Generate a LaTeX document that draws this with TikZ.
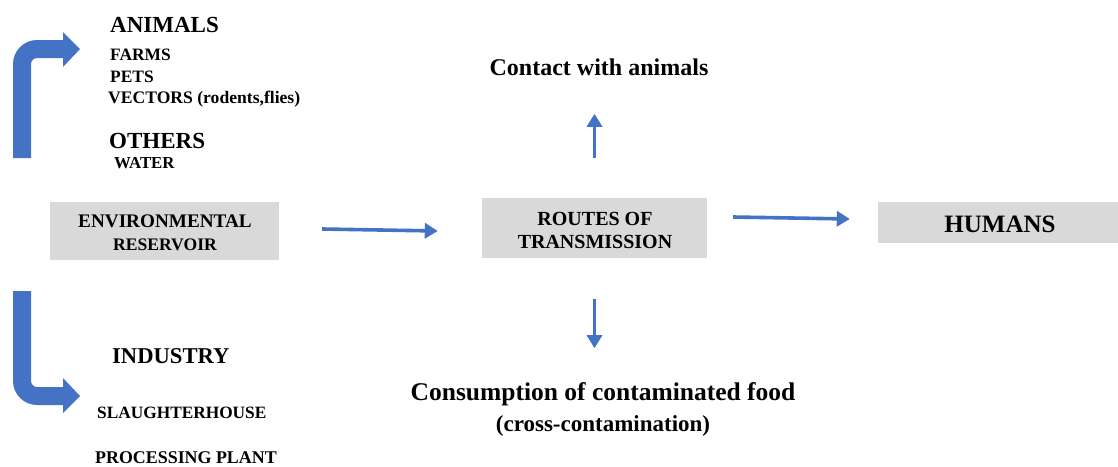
\documentclass[tikz,border=0pt]{standalone}
\usepackage{fontspec}
\setmainfont{Liberation Serif}
\usetikzlibrary{arrows.meta,calc}
\definecolor{arrblue}{HTML}{4472C4}
\definecolor{boxgray}{HTML}{D9D9D9}
\newcommand{\fs}[1]{\fontsize{#1}{#1}\selectfont\bfseries}
\begin{document}
\begin{tikzpicture}[x=1pt,y=-1pt,
  graybox/.style={fill=boxgray,draw=none,inner sep=0pt},
  lbl/.style={inner sep=0pt,anchor=base west,text=black},
  clbl/.style={inner sep=0pt,anchor=base,text=black},
  conn/.style={draw=arrblue,line width=3.6pt,-{Triangle[length=13pt,width=15pt]}},
  blockarrow/.style={fill=arrblue}]
\useasboundingbox (0,0) rectangle (1118,466);
% boxes
\node[graybox,minimum width=229pt,minimum height=58pt] (env) at (164.5,231) {};
\node[graybox,minimum width=225pt,minimum height=60pt] (routes) at (594.5,228) {};
\node[graybox,minimum width=240pt,minimum height=41pt] (humans) at (998,222.5) {};
% box texts
\node[clbl] (envA) at (165,227) {\fs{19.2}ENVIRONMENTAL};
\node[clbl] (envB) at (165,250) {\fs{17.6}RESERVOIR};
\node[clbl] (rtA) at (595,225) {\fs{20}ROUTES OF};
\node[clbl] (rtB) at (595,248) {\fs{20}TRANSMISSION};
\node[clbl] (hum) at (1000,232) {\fs{25}HUMANS};
% left texts
\node[lbl] (animals) at (110,32) {\fs{23}ANIMALS};
\node[lbl] (farms) at (110,60) {\fs{17.4}FARMS};
\node[lbl] (pets) at (110,82) {\fs{17.4}PETS};
\node[lbl] (vectors) at (108,103) {\fs{17.6}VECTORS (rodents,flies)};
\node[lbl] (others) at (109,148) {\fs{23}OTHERS};
\node[lbl] (water) at (114,168) {\fs{16.8}WATER};
\node[lbl] (industry) at (112,363) {\fs{22.6}INDUSTRY};
\node[lbl] (slaughter) at (97,418) {\fs{17.3}SLAUGHTERHOUSE};
\node[lbl] (plant) at (95,463) {\fs{17.9}PROCESSING PLANT};
% route outcomes
\node[clbl] (contact) at (599,75) {\fs{24}Contact with animals};
\node[clbl] (food) at (603,400) {\fs{25.5}Consumption of contaminated food};
\node[clbl] (cross) at (603,431) {\fs{23}(cross-contamination)};
% connectors
\draw[conn] ($(env.east)+(43,-2)$) -- ($(routes.west)+(-44,3)$);
\draw[conn] ($(routes.east)+(26,-11)$) -- ($(humans.west)+(-28,-3.5)$);
\draw[conn] ($(routes.north)+(0,-40)$) -- ($(routes.north)+(0,-84)$);
\draw[conn] ($(routes.south)+(0,41)$) -- ($(routes.south)+(0,90)$);
% block arrows
\fill[blockarrow] (13,158) -- (13,64) .. controls (13,50.8) and (23.8,40) .. (37,40)
  -- (63,40) -- (63,32) -- (80,49) -- (63,67) -- (63,58) -- (37,58)
  .. controls (33.7,58) and (31,60.7) .. (31,64) -- (31,158) -- cycle;
\fill[blockarrow] (13,291) -- (13,381) .. controls (13,394.2) and (23.8,405) .. (37,405)
  -- (63,405) -- (63,413) -- (80,396) -- (63,378) -- (63,387) -- (37,387)
  .. controls (33.7,387) and (31,384.3) .. (31,381) -- (31,291) -- cycle;
\end{tikzpicture}
\end{document}
